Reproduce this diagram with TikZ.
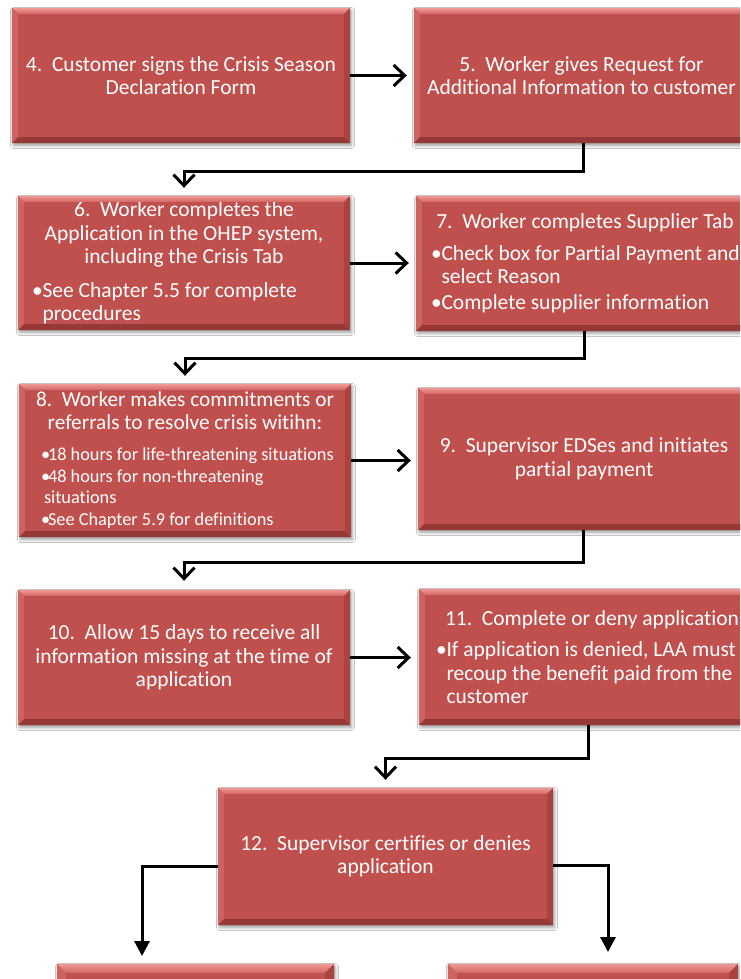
\documentclass[tikz,border=0pt]{standalone}
\usepackage{fontspec}
\setmainfont{Carlito}[Ligatures={NoCommon}]
\usetikzlibrary{arrows.meta,shadows.blur}
\definecolor{boxred}{HTML}{C0504D}
\definecolor{bevtopA}{HTML}{F09A97}
\definecolor{bevtopB}{HTML}{D26764}
\definecolor{bevleft}{HTML}{CE6461}
\definecolor{bevright}{HTML}{A9433F}
\definecolor{bevbot}{HTML}{963835}
\newcommand{\bul}{\makebox[10.5pt][l]{\textbullet}}
\newcommand{\cnt}{\hspace*{10.5pt}}
\newcommand{\sbul}{\makebox[7pt][l]{\textbullet}}
\newcommand{\scnt}{\hspace*{3pt}}
\newcommand{\lline}[2]{\makebox[#1][l]{#2}}
\newcommand{\mainfs}{\fontsize{21.5}{23.5}\selectfont}
\newcommand{\headfs}{\fontsize{21.3}{23}\selectfont}
\newcommand{\smallfs}{\fontsize{18.3}{22}\selectfont}
\newcommand{\bevelbox}[2]{%
  \shade[top color=bevtopA,bottom color=bevtopB] (#1.north west) -- (#1.north east) -- ([shift={(-#2,-#2)}]#1.north east) -- ([shift={(#2,-#2)}]#1.north west) -- cycle;
  \fill[bevleft] (#1.north west) -- ([shift={(#2,-#2)}]#1.north west) -- ([shift={(#2,#2)}]#1.south west) -- (#1.south west) -- cycle;
  \fill[bevright] (#1.north east) -- ([shift={(-#2,-#2)}]#1.north east) -- ([shift={(-#2,#2)}]#1.south east) -- (#1.south east) -- cycle;
  \fill[bevbot] (#1.south west) -- ([shift={(#2,#2)}]#1.south west) -- ([shift={(-#2,#2)}]#1.south east) -- (#1.south east) -- cycle;
}
\begin{document}
\begin{tikzpicture}[x=1pt,y=-1pt,
  stepbox/.style={rectangle, fill=boxred, text=white, inner sep=0pt, font=\mainfs, align=center,
    blur shadow={shadow xshift=1.5pt,shadow yshift=-2.5pt,shadow blur radius=3pt,shadow opacity=40}},
  conn/.style={line width=3pt, -{Straight Barb[length=11pt,width=21pt]}},
  tconn/.style={line width=3pt, -{Triangle[length=15pt,width=15pt]}}]
\useasboundingbox (0,0) rectangle (740,979);
\clip (0,0) rectangle (740,979);
\fill[white] (0,0) rectangle (740,979);

\node[stepbox, minimum width=338pt, minimum height=135pt] (b4) at (181,75.5)
  {4.\ \ Customer signs the Crisis Season\\Declaration Form};
\node[stepbox, minimum width=335pt, minimum height=135pt] (b5) at (581.5,75.5)
  {5.\ \ Worker gives Request for\\Additional Information to customer};
\node[stepbox, minimum width=332pt, minimum height=134pt] (b6) at (184,263)
  {6.\ \ Worker completes the\\Application in the OHEP system,\\including the Crisis Tab\\[10pt]
   \lline{304pt}{\bul See Chapter 5.5 for complete}\\
   \lline{304pt}{\cnt procedures}};
\node[stepbox, minimum width=338pt, minimum height=135pt] (b7) at (585,263.5)
  {7.\ \ Worker completes Supplier Tab\\[8pt]
   \lline{308pt}{\bul Check box for Partial Payment and}\\
   \lline{308pt}{\cnt select Reason}\\[2pt]
   \lline{308pt}{\bul Complete supplier information}};
\node[stepbox, minimum width=332pt, minimum height=153pt, font=\headfs] (b8) at (185,460.5)
  {8.\ \ Worker makes commitments or\\referrals to resolve crisis witihn:\\[8pt]
   \lline{288pt}{\smallfs\sbul 18 hours for life-threatening situations}\\[-1pt]
   \lline{288pt}{\smallfs\sbul 48 hours for non-threatening}\\[-2pt]
   \lline{288pt}{\smallfs\scnt situations}\\[-1pt]
   \lline{288pt}{\smallfs\sbul See Chapter 5.9 for definitions}};
\node[stepbox, minimum width=332pt, minimum height=142pt] (b9) at (584,459)
  {9.\ \ Supervisor EDSes and initiates\\partial payment};
\node[stepbox, minimum width=332pt, minimum height=135pt] (b10) at (184,657.5)
  {10.\ \ Allow 15 days to receive all\\information missing at the time of\\application};
\node[stepbox, minimum width=346pt, minimum height=136pt] (b11) at (592,657)
  {11.\ \ Complete or deny application\\[8pt]
   \lline{312pt}{\bul If application is denied, LAA must}\\
   \lline{312pt}{\cnt recoup the benefit paid from the}\\
   \lline{312pt}{\cnt customer}};
\node[stepbox, minimum width=335pt, minimum height=137pt] (b12) at (385.5,856.5)
  {12.\ \ Supervisor certifies or denies\\application};
\node[stepbox, minimum width=277pt, minimum height=136pt] (b13) at (195.5,1032) {};
\node[stepbox, minimum width=290pt, minimum height=136pt] (b14) at (593,1032) {};

\foreach \n in {b4,b5,b6,b7,b8,b9,b10,b11,b12} {\bevelbox{\n}{6pt}}
\foreach \n in {b13,b14} {\bevelbox{\n}{9pt}}

\coordinate (l13) at (142,964);
\coordinate (r14) at (608,964);

\draw[conn, shorten >=7pt] (b4.east) -- (b5.west);
\draw[conn, shorten >=7pt] (b6.east) -- (b6.east -| b7.west);
\draw[conn, shorten >=7pt] (b8.east) -- (b8.east -| b9.west);
\draw[conn, shorten >=8pt] (b10.east) -- (b10.east -| b11.west);

\draw[conn, shorten >=8pt] ([xshift=2pt]b5.south) -- ++(0,28) -| (b6.north);
\draw[conn, shorten >=8pt] ([xshift=-1pt]b7.south) -- ++(0,27) -| (b8.north);
\draw[conn, shorten >=9pt] ([xshift=-1pt]b9.south) -- ++(0,32) -| (b10.north);
\draw[conn, shorten >=8pt] ([xshift=-4pt]b11.south) -- ++(0,33) -| (b12.north);

\draw[tconn, shorten >=8pt] ([yshift=-10pt]b12.west) -| (l13);
\draw[tconn, shorten >=12pt] ([yshift=-9pt]b12.east) -| (r14);
\end{tikzpicture}
\end{document}
